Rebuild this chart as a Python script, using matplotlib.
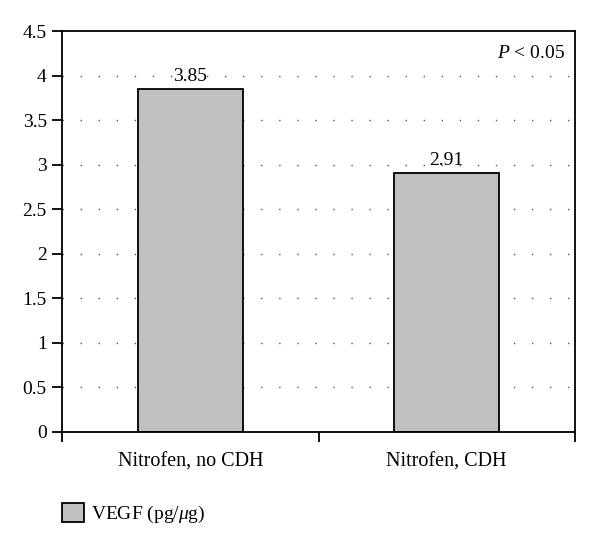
import matplotlib
matplotlib.use('Agg')
import matplotlib.pyplot as plt
import numpy as np
from matplotlib.patches import Patch

plt.rcParams['font.family'] = ['Liberation Serif', 'DejaVu Serif']
plt.rcParams['mathtext.fontset'] = 'custom'
plt.rcParams['mathtext.it'] = 'Liberation Serif:italic'
plt.rcParams['mathtext.rm'] = 'Liberation Serif'

groups = ['Nitrofen, no CDH', 'Nitrofen, CDH']
vegf = [3.85, 2.91]
yticks = [0, 0.5, 1, 1.5, 2, 2.5, 3, 3.5, 4, 4.5]

fig = plt.figure(figsize=(6, 5.52), dpi=100)
ax = fig.add_axes([62/600, 1-432/552, (575-62)/600, (432-31)/552])

x = np.arange(len(groups))
for y in yticks[1:-1]:
    ax.axhline(y, color='#555555', linestyle=(0, (1, 12)), linewidth=1, zorder=1)
bars = ax.bar(x, vegf, width=0.41, color='#c0c0c0', edgecolor='black', linewidth=1.3, zorder=2)
for xi, v in zip(x, vegf):
    ax.text(xi, v + 0.04, f'{v:.2f}', ha='center', va='bottom', fontsize=14)

ax.set_xlim(-0.5, 1.5)
ax.set_ylim(0, 4.5)
ax.set_yticks(yticks)
ax.set_yticklabels([f'{t:g}' for t in yticks], fontsize=14)
ax.set_xticks([-0.5, 0.5, 1.5])
ax.set_xticklabels(['', '', ''])
ax.set_xticks(x, minor=True)
ax.set_xticklabels(groups, minor=True, fontsize=14.5)
ax.tick_params(axis='x', which='minor', length=0, pad=15)
ax.tick_params(axis='x', which='major', length=7, width=1.3)
ax.tick_params(axis='y', length=7, width=1.3, pad=4)
for s in ax.spines.values():
    s.set_linewidth(1.3)

ax.text(0.98, 0.965, r'$P$ < 0.05', transform=ax.transAxes, ha='right', va='top', fontsize=14)

fig.legend(handles=[Patch(facecolor='#c0c0c0', edgecolor='black', linewidth=1.3)],
           labels=['VEGF (pg/$\\mu$g)'], loc='center left', bbox_to_anchor=(44/600, 1-514/552),
           frameon=False, fontsize=14, handlelength=1.15, handleheight=1.15, handletextpad=0.35)

fig.savefig('out.png', dpi=100)
